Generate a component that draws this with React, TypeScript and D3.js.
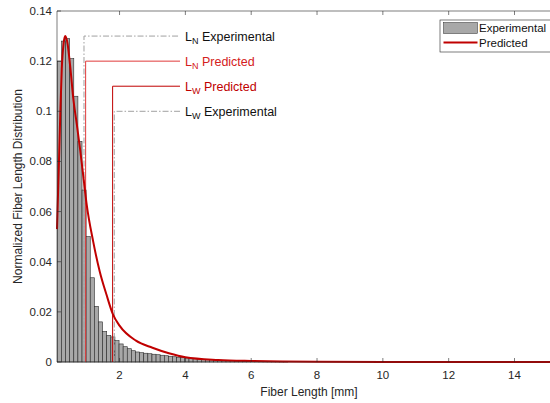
import React from "react";
import * as d3 from "d3";

// ---- data ----
const binStart = 0.11;
const binWidth = 0.125;
const barValues = [
  0.120, 0.128, 0.129, 0.121, 0.106, 0.088, 0.0686, 0.050, 0.0336, 0.0222,
  0.0160, 0.0122, 0.0106, 0.0100, 0.0085, 0.0072, 0.0061, 0.0053, 0.0045, 0.0040,
  0.0037, 0.0035, 0.0033, 0.0031, 0.0029, 0.0027, 0.0025, 0.0023, 0.0021, 0.0019,
  0.0018, 0.0016, 0.0015, 0.0013, 0.0012, 0.0011, 0.0010, 0.0009, 0.0008, 0.0007,
  0.0006, 0.0005, 0.0005, 0.0004, 0.0004, 0.0003, 0.0003, 0.0003, 0.0002, 0.0002,
  0.0002, 0.0002, 0.0001, 0.0001, 0.0001, 0.0001,
];
const curveX = [0.1, 0.16, 0.2, 0.245, 0.3, 0.35, 0.42, 0.5, 0.6, 0.7, 0.8, 0.9, 1.0, 1.2, 1.4, 1.6, 1.8, 2.0, 2.5, 3.0, 3.5, 4.0, 5.0, 6.0, 8.0, 10.0, 15.2];
const curveY = [0.053, 0.080, 0.099, 0.117, 0.127, 0.130, 0.127, 0.118, 0.1045, 0.095, 0.085, 0.074, 0.063, 0.048, 0.036, 0.027, 0.019, 0.0145, 0.0085, 0.0057, 0.0035, 0.0019, 0.0008, 0.0004, 0.0001, 0.00005, 0.0];
const xTicks = [2, 4, 6, 8, 10, 12, 14];
const yTicks = [0, 0.02, 0.04, 0.06, 0.08, 0.1, 0.12, 0.14];
const markerLabels = ["N", "N", "W", "W"];
const markerKinds = ["Experimental", "Predicted", "Predicted", "Experimental"];
const markerX = [0.92, 0.97, 1.79, 1.84];
const markerY = [0.13, 0.12, 0.11, 0.10];

const W = 550, H = 403;
const L = 57, R = 554, T = 11, B = 362;
const RED = "#c00000";
const FONT = "'Liberation Sans', Arial, Helvetica, sans-serif";

export default function App() {
  const x = d3.scaleLinear().domain([0.1, 15.2]).range([L, R]);
  const y = d3.scaleLinear().domain([0, 0.14]).range([B, T]);
  const line = d3
    .line<number>()
    .x((_, i) => x(curveX[i]))
    .y((d) => y(d))
    .curve(d3.curveMonotoneX);
  const labelX = 185;
  const lineEnd = 180;
  return (
    <svg width={W} height={H} style={{ position: "absolute", left: 0, top: 0 }} fontFamily={FONT}>
      <rect width={W} height={H} fill="#fff" />
      {/* bars */}
      {barValues.map((v, i) => {
        const x0 = x(binStart + i * binWidth);
        const x1 = x(binStart + (i + 1) * binWidth);
        return (
          <rect key={i} x={x0} y={y(v)} width={x1 - x0} height={B - y(v)} fill="#a8a8a8" stroke="#2a2a2a" strokeWidth={0.6} />
        );
      })}
      {/* marker lines */}
      {markerX.map((mx, i) => {
        const exp = markerKinds[i] === "Experimental";
        return (
          <path
            key={"m" + i}
            d={`M${x(mx)},${B}V${y(markerY[i])}H${lineEnd}`}
            fill="none"
            stroke={exp ? "#a0a0a0" : i === 1 ? "#e03a3a" : RED}
            strokeWidth={1}
            strokeDasharray={exp ? "6,2,1.5,2" : undefined}
          />
        );
      })}
      {markerX.map((_, i) => {
        const exp = markerKinds[i] === "Experimental";
        return (
          <text key={"t" + i} x={labelX} y={y(markerY[i]) + 4.5} fontSize={12.5} fill={exp ? "#111" : i === 1 ? "#d42020" : RED}>
            L<tspan fontSize={9} dy={3}>{markerLabels[i]}</tspan>
            <tspan dy={-3}>{" " + markerKinds[i]}</tspan>
          </text>
        );
      })}
      {/* curve */}
      <path d={line(curveY) || ""} fill="none" stroke={RED} strokeWidth={2} />
      {/* axes box */}
      <path d={`M${L},${T}H${R}V${B}H${L}Z`} fill="none" stroke="#262626" strokeWidth={0.6} />
      {xTicks.map((t) => (
        <g key={"x" + t}>
          <line x1={x(t)} x2={x(t)} y1={B} y2={B - 4} stroke="#262626" strokeWidth={0.6} />
          <line x1={x(t)} x2={x(t)} y1={T} y2={T + 4} stroke="#262626" strokeWidth={0.6} />
          <text x={x(t)} y={379} textAnchor="middle" fontSize={11.5} fill="#262626">{t}</text>
        </g>
      ))}
      {yTicks.map((t) => (
        <g key={"y" + t}>
          <line x1={L} x2={L + 4} y1={y(t)} y2={y(t)} stroke="#262626" strokeWidth={0.6} />
          <text x={52} y={y(t) + 4} textAnchor="end" fontSize={11.5} fill="#262626">{d3.format("~g")(t)}</text>
        </g>
      ))}
      <text x={309} y={396} textAnchor="middle" fontSize={12} fill="#262626">Fiber Length [mm]</text>
      <text transform={`translate(22,${(T + B) / 2}) rotate(-90)`} textAnchor="middle" fontSize={12} fill="#262626">
        Normalized Fiber Length Distribution
      </text>
      {/* legend */}
      <rect x={440} y={20} width={130} height={32} fill="#fff" stroke="#262626" strokeWidth={0.6} />
      <rect x={443.5} y={22.5} width={34} height={11} fill="#a8a8a8" stroke="#2a2a2a" strokeWidth={0.5} />
      <line x1={443.5} x2={477.5} y1={42.5} y2={42.5} stroke={RED} strokeWidth={2} />
      <text x={479} y={32} fontSize={11.5} fill="#111">Experimental</text>
      <text x={479} y={46.5} fontSize={11.5} fill="#111">Predicted</text>
    </svg>
  );
}
